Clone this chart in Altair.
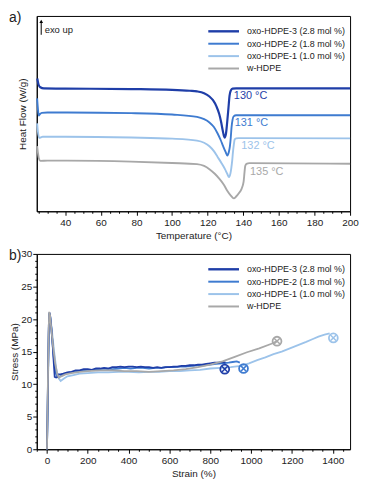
import altair as alt
import pandas as pd

FONT = "Liberation Sans"
TXT = "#222222"

SERIES = ["oxo-HDPE-3 (2.8 mol %)", "oxo-HDPE-2 (1.8 mol %)", "oxo-HDPE-1 (1.0 mol %)", "w-HDPE"]
COLORS = ["#1f3ea8", "#3e7bd0", "#9cc3ea", "#a8a8a8"]

# ---------------- panel a: DSC traces (heat flow, offset units, exo up) ----------------
DSC3_T = [24.3, 25, 26, 28, 40, 77, 100, 110, 114, 118, 121, 123, 125, 126.5, 127.5, 128.5, 129.5, 130.3, 131, 131.7, 132.3, 133, 134, 136, 200]
DSC3_HF = [14.35, 13.7, 13.4, 13.27, 13.25, 13.2, 13.12, 13.02, 12.95, 12.75, 12.4, 12.0, 11.3, 10.5, 9.7, 8.7, 7.95, 8.4, 9.7, 11.2, 12.5, 13.05, 13.25, 13.27, 13.27]

DSC2_T = [24.2, 24.6, 25.1, 25.8, 26.8, 30, 41, 77, 100, 114, 118, 121, 123.5, 125.6, 127.3, 128.7, 130, 131.1, 131.9, 132.5, 133, 133.4, 134, 134.6, 136, 200]
DSC2_HF = [12.2, 11.2, 10.35, 10.5, 10.63, 10.67, 10.67, 10.6, 10.45, 10.2, 9.95, 9.6, 9.1, 8.4, 7.7, 7.03, 6.45, 6.03, 6.4, 7.03, 8.0, 9.03, 9.9, 10.25, 10.37, 10.37]

DSC1_T = [24.2, 24.6, 25.3, 26.2, 27.3, 40, 77, 100, 114, 118, 121, 123.5, 125.6, 127.8, 129.8, 131, 132, 132.8, 133.3, 133.8, 134.2, 134.7, 135.2, 136, 137.4, 200]
DSC1_HF = [9.5, 8.7, 7.93, 7.97, 8.05, 8.05, 7.97, 7.85, 7.63, 7.4, 7.03, 6.5, 5.87, 5.2, 4.53, 4.05, 3.7, 4.1, 4.7, 5.5, 6.37, 7.2, 7.77, 7.87, 7.9, 7.87]

DSC0_T = [24.2, 24.6, 25.2, 26, 30, 41, 77, 100, 114, 118, 121, 124, 126.5, 129, 131.1, 133, 134.7, 136, 137.5, 139, 140.2, 140.7, 141.1, 141.8, 143.5, 200]
DSC0_HF = [7.03, 6.4, 5.7, 5.45, 5.47, 5.47, 5.37, 5.22, 5.1, 4.9, 4.55, 4.05, 3.53, 2.9, 2.2, 1.7, 1.4, 1.6, 1.95, 2.4, 3.2, 4.2, 4.9, 5.12, 5.2, 5.13]

TEMP_LABELS = ["130 °C", "131 °C", "132 °C", "135 °C"]
LABEL_T = [134.7, 135.2, 138.9, 143.8]
LABEL_HF = [12.4, 9.53, 7.03, 4.27]

# ---------------- panel b: stress-strain curves ----------------
SS3_X = [0, 3, 6, 9, 12, 16, 22, 28, 34, 38, 45, 52, 56, 65, 80, 100, 120, 140, 160, 180, 200, 220, 240, 260, 280, 300, 320, 340, 360, 380, 400, 420, 440, 460, 480, 500, 520, 540, 560, 580, 600, 620, 640, 660, 680, 700, 720, 740, 760, 780, 800, 820, 840, 860, 875]
SS3_Y = [0, 6, 13, 19, 21.0, 20.4, 18.5, 16, 13, 11.1, 11.0, 11.1, 11.5, 11.5, 11.6, 11.8, 11.9, 12.1, 12.1, 12.3, 12.3, 12.2, 12.4, 12.4, 12.5, 12.4, 12.6, 12.6, 12.7, 12.6, 12.7, 12.7, 12.6, 12.7, 12.6, 12.6, 12.5, 12.6, 12.5, 12.6, 12.6, 12.7, 12.7, 12.8, 12.8, 12.9, 12.9, 13.0, 13.0, 13.1, 13.2, 13.3, 13.3, 13.4, 13.3]

SS2_X = [0, 3, 6, 9, 12, 16, 22, 28, 35, 42, 50, 58, 70, 90, 110, 140, 170, 200, 230, 260, 290, 320, 350, 380, 410, 440, 470, 500, 530, 560, 590, 620, 650, 680, 710, 740, 770, 800, 830, 860, 890, 910, 930, 945]
SS2_Y = [0, 5.5, 12.5, 18.5, 20.9, 20.3, 18.3, 16, 13.5, 11.8, 11.2, 11.1, 11.3, 11.6, 11.8, 11.9, 12.1, 12.2, 12.2, 12.3, 12.4, 12.3, 12.4, 12.5, 12.4, 12.5, 12.5, 12.4, 12.5, 12.5, 12.6, 12.6, 12.7, 12.7, 12.8, 12.9, 12.9, 13.0, 13.1, 13.2, 13.3, 13.4, 13.5, 13.3]

SS1_X = [0, 3, 6, 9, 13, 18, 25, 35, 45, 55, 67, 80, 100, 130, 160, 200, 250, 300, 350, 400, 450, 500, 550, 600, 650, 700, 750, 800, 850, 900, 950, 990, 1030, 1070, 1110, 1150, 1190, 1230, 1270, 1300, 1330, 1360, 1385]
SS1_Y = [0, 5, 12, 18, 20.8, 20.0, 18.0, 15.0, 12.5, 11.0, 10.5, 10.8, 11.2, 11.4, 11.6, 11.7, 11.8, 11.8, 11.9, 11.9, 11.8, 11.9, 11.9, 12.0, 12.0, 12.1, 12.2, 12.4, 12.5, 12.6, 12.8, 13.2, 13.7, 14.1, 14.6, 15.0, 15.5, 16.0, 16.5, 16.9, 17.3, 17.6, 17.8]

SS0_X = [0, 2, 5, 8, 11, 15, 22, 30, 40, 50, 58, 70, 90, 120, 160, 200, 260, 320, 380, 440, 500, 560, 620, 680, 740, 800, 860, 920, 980, 1040, 1100, 1127]
SS0_Y = [0, 4, 11, 17.5, 21.1, 20.6, 18.3, 15.8, 13.2, 11.6, 11.0, 11.2, 11.5, 11.7, 11.9, 12.0, 12.1, 12.1, 12.0, 12.0, 11.9, 12.0, 12.1, 12.3, 12.6, 13.0, 13.5, 14.2, 14.9, 15.5, 16.2, 16.6]

BREAK_STRAIN = [871, 963, 1403, 1127]
BREAK_STRESS = [12.3, 12.4, 17.1, 16.6]

# ---------------- layout ----------------
W = 316
H = 197

color_enc = alt.Color("series:N", scale=alt.Scale(domain=SERIES, range=COLORS), legend=None)


def long_df(xs, ys, name, xk, yk):
    return pd.DataFrame({xk: xs, yk: ys, "series": name})


def legend_layers(x0=173, length=31, gap=8, y0=15.5, dy=12.5):
    out = []
    for i, (name, col) in enumerate(zip(SERIES, COLORS)):
        d = pd.DataFrame({"label": [name]})
        y = y0 + i * dy
        out.append(alt.Chart(d).mark_rule(color=col, strokeWidth=2.4 if i == 0 else 2).encode(
            x=alt.value(x0), x2=alt.value(x0 + length), y=alt.value(y)))
        out.append(alt.Chart(d).mark_text(align="left", baseline="middle", fontSize=9, font=FONT, color=TXT).encode(
            x=alt.value(x0 + length + gap), y=alt.value(y), text="label:N"))
    return out


def panel_label(txt):
    return alt.Chart(pd.DataFrame({"t": [txt]})).mark_text(
        align="left", baseline="middle", fontSize=14, font=FONT, color=TXT
    ).encode(x=alt.value(-28), y=alt.value(2), text="t:N")


# ---- panel a ----
xa = alt.Scale(domain=[24, 200], nice=False, zero=False)
ya = alt.Scale(domain=[0, 21.1], nice=False, zero=False)

dsc_frames = [
    long_df(DSC3_T, DSC3_HF, SERIES[0], "T", "HF"),
    long_df(DSC2_T, DSC2_HF, SERIES[1], "T", "HF"),
    long_df(DSC1_T, DSC1_HF, SERIES[2], "T", "HF"),
    long_df(DSC0_T, DSC0_HF, SERIES[3], "T", "HF"),
]

a_layers = []
for i, (df, col) in enumerate(zip(dsc_frames, COLORS)):
    if i == 0:
        xenc = alt.X("T:Q", scale=xa, axis=alt.Axis(values=list(range(40, 201, 20)), title="Temperature (°C)",
                                                   tickSize=4, labelPadding=2, titlePadding=3, labelFlush=False))
        yenc = alt.Y("HF:Q", scale=ya, axis=alt.Axis(title="Heat Flow (W/g)", labels=False, ticks=False, titlePadding=9))
    else:
        xenc = alt.X("T:Q", scale=xa, axis=None)
        yenc = alt.Y("HF:Q", scale=ya, axis=None)
    a_layers.append(alt.Chart(df).mark_line(color=col, strokeWidth=2.2 if i == 0 else 1.9,
                                            interpolate="monotone").encode(x=xenc, y=yenc))

MINOR_A = [v for v in range(25, 201, 5) if v % 20 != 0]
minor_a = alt.Chart(dsc_frames[0]).mark_point(opacity=0).encode(
    x=alt.X("T:Q", scale=xa, axis=alt.Axis(values=MINOR_A, labels=False, domain=False, tickSize=2,
                                           title=None, orient="bottom")),
    y=alt.Y("HF:Q", scale=ya, axis=None))

lab_df = pd.DataFrame({"T": LABEL_T, "HF": LABEL_HF, "text": TEMP_LABELS, "series": SERIES})
temp_labels = alt.Chart(lab_df).mark_text(align="left", baseline="middle", fontSize=11, font=FONT).encode(
    x=alt.X("T:Q", scale=xa, axis=None), y=alt.Y("HF:Q", scale=ya, axis=None),
    text="text:N", color=color_enc)

exo_df = pd.DataFrame({"t": ["exo up"]})
exo_rule = alt.Chart(exo_df).mark_rule(color="black", strokeWidth=1).encode(
    x=alt.value(4.5), y=alt.value(6), y2=alt.value(19))
exo_head = alt.Chart(exo_df).mark_point(shape="triangle-up", filled=True, color="black", size=14, opacity=1).encode(
    x=alt.value(4.5), y=alt.value(5.5))
exo_text = alt.Chart(exo_df).mark_text(align="left", baseline="middle", fontSize=9.5, font=FONT, color=TXT).encode(
    x=alt.value(8), y=alt.value(14.5), text="t:N")

panel_a = alt.layer(
    *a_layers, minor_a, temp_labels, *legend_layers(), exo_rule, exo_head, exo_text, panel_label("a)")
).resolve_axis(x="independent", y="independent").properties(width=W, height=H)

# ---- panel b ----
xb = alt.Scale(domain=[-50, 1485], nice=False, zero=False)
yb = alt.Scale(domain=[0, 30], nice=False, zero=False)

ss_frames = {
    SERIES[0]: long_df(SS3_X, SS3_Y, SERIES[0], "strain", "stress"),
    SERIES[1]: long_df(SS2_X, SS2_Y, SERIES[1], "strain", "stress"),
    SERIES[2]: long_df(SS1_X, SS1_Y, SERIES[2], "strain", "stress"),
    SERIES[3]: long_df(SS0_X, SS0_Y, SERIES[3], "strain", "stress"),
}
draw_order = [SERIES[2], SERIES[1], SERIES[0], SERIES[3]]
b_layers = []
for i, name in enumerate(draw_order):
    col = COLORS[SERIES.index(name)]
    if i == 0:
        xenc = alt.X("strain:Q", scale=xb, axis=alt.Axis(values=list(range(0, 1401, 200)), title="Strain (%)",
                                                        format="d", tickSize=4, labelPadding=2, titlePadding=3))
        yenc = alt.Y("stress:Q", scale=yb, axis=alt.Axis(values=list(range(0, 31, 5)), title="Stress (MPa)",
                                                        tickSize=4, labelPadding=1, titlePadding=1))
    else:
        xenc = alt.X("strain:Q", scale=xb, axis=None)
        yenc = alt.Y("stress:Q", scale=yb, axis=None)
    b_layers.append(alt.Chart(ss_frames[name]).mark_line(color=col, strokeWidth=1.8).encode(x=xenc, y=yenc))

MINOR_BX = [v for v in range(-50, 1486, 50) if v % 200 != 0]
MINOR_BY = [v for v in range(0, 31) if v % 5 != 0]
minor_b = alt.Chart(ss_frames[SERIES[0]]).mark_point(opacity=0).encode(
    x=alt.X("strain:Q", scale=xb, axis=alt.Axis(values=MINOR_BX, labels=False, domain=False, tickSize=2,
                                                title=None, orient="bottom")),
    y=alt.Y("stress:Q", scale=yb, axis=alt.Axis(values=MINOR_BY, labels=False, domain=False, tickSize=2,
                                                title=None, orient="left")))

brk = pd.DataFrame({"strain": BREAK_STRAIN, "stress": BREAK_STRESS, "series": SERIES})
brk_circle = alt.Chart(brk).mark_point(shape="circle", filled=False, size=80, strokeWidth=1.8, opacity=1).encode(
    x=alt.X("strain:Q", scale=xb, axis=None), y=alt.Y("stress:Q", scale=yb, axis=None), color=color_enc)
brk_cross = alt.Chart(brk).mark_point(shape="M-1,-1L1,1M-1,1L1,-1", filled=False, size=34, strokeWidth=1.5,
                                      opacity=1).encode(
    x=alt.X("strain:Q", scale=xb, axis=None), y=alt.Y("stress:Q", scale=yb, axis=None), color=color_enc)

panel_b = alt.layer(
    *b_layers, minor_b, brk_circle, brk_cross, *legend_layers(), panel_label("b)")
).resolve_axis(x="independent", y="independent").properties(width=W, height=H)

chart = alt.vconcat(panel_a, panel_b, spacing=7).properties(padding=0).configure(
    font=FONT
).configure_view(
    stroke="black", strokeWidth=1
).configure_axis(
    labelFont=FONT, titleFont=FONT, labelFontSize=10, titleFontSize=10, titleFontWeight="normal",
    labelColor=TXT, titleColor=TXT, domainColor="black", tickColor="black", grid=False,
    domainWidth=1, tickWidth=1
)

chart.save("out.html", embed_options={"renderer": "svg", "actions": False})
